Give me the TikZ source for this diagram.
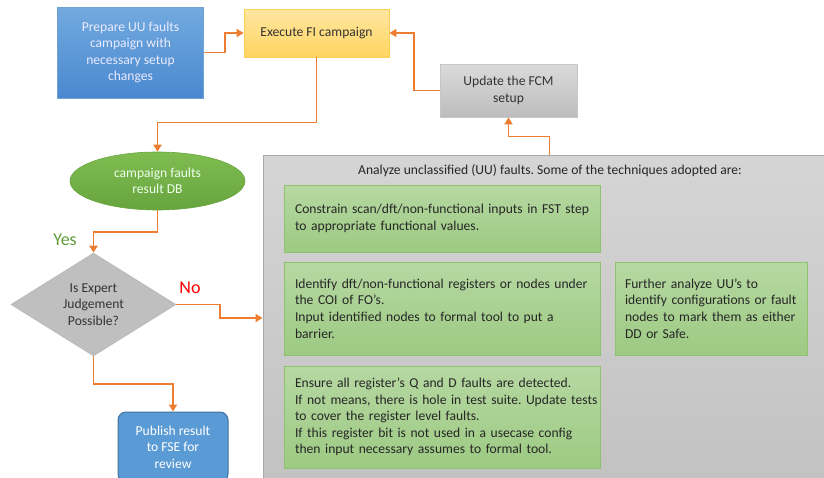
\documentclass[tikz,border=0pt]{standalone}
\usepackage{fontspec}
\setmainfont{Carlito}
\frenchspacing
\usetikzlibrary{shapes.geometric,arrows.meta,calc}
\definecolor{arrorange}{HTML}{ED7D31}
\definecolor{blueTop}{HTML}{72AADF}
\definecolor{blueBot}{HTML}{4A88CF}
\definecolor{blueLine}{HTML}{6FA3D8}
\definecolor{yelTop}{HTML}{FFE7A2}
\definecolor{yelBot}{HTML}{FFD460}
\definecolor{yelLine}{HTML}{FFCF55}
\definecolor{grayTop}{HTML}{DADADA}
\definecolor{grayBot}{HTML}{BDBDBD}
\definecolor{grayLine}{HTML}{C6C6C6}
\definecolor{bigTop}{HTML}{D5D5D5}
\definecolor{bigBot}{HTML}{C2C2C2}
\definecolor{bigLine}{HTML}{A8A8A8}
\definecolor{grnTop}{HTML}{B6D8A2}
\definecolor{grnBot}{HTML}{9DCA83}
\definecolor{grnLine}{HTML}{8EC26E}
\definecolor{ellTop}{HTML}{7FBD51}
\definecolor{ellBot}{HTML}{68A43E}
\definecolor{pubFill}{HTML}{5B9BD5}
\definecolor{pubLine}{HTML}{41719C}
\definecolor{yesGreen}{HTML}{5E9C3A}
\definecolor{darktext}{HTML}{333333}
\begin{document}
\begin{tikzpicture}[x=1pt,y=-1pt,
  txt/.style={font=\fontsize{13.6}{16.6}\selectfont},
  box/.style={txt, rectangle, inner sep=0pt, align=center},
  arr/.style={draw=arrorange, line width=1.8pt, -{Triangle[length=7pt,width=8pt]}},
  greenbox/.style={txt, rectangle, top color=grnTop, bottom color=grnBot, draw=grnLine, line width=0.8pt,
     text=black!85, align=left, inner xsep=11pt, inner ysep=0pt},
  lbl/.style={font=\fontsize{18}{20}\selectfont}
]
\useasboundingbox (0,0) rectangle (824,477);
\clip (0,0) rectangle (824,477);

% big gray container
\node[rectangle, top color=bigTop, bottom color=bigBot, draw=bigLine, line width=1pt,
      minimum width=577pt, minimum height=326pt, inner sep=0pt] (big) at (551.5,318) {};
\node[txt, text=black!85] (title) at (550,171) {Analyze unclassified (UU) faults. Some of the techniques adopted are:};

% green technique boxes
\node[greenbox, text width=294pt, minimum height=67pt] (g1) at (442,218.5)
  {\mbox{Constrain scan/dft/non-functional inputs in FST step}\\to appropriate functional values.};
\node[greenbox, text width=294pt, minimum height=93pt] (g2) at (442,308.5)
  {\mbox{Identify dft/non-functional registers or nodes under}\\the COI of FO’s.\\Input identified nodes to formal tool to put a\\barrier.};
\node[greenbox, text width=172pt, minimum height=93pt, inner xsep=10pt] (g3) at (711,308.5)
  {Further analyze UU’s to\\\mbox{identify configurations or fault}\\nodes to mark them as either\\DD or Safe.};
\node[greenbox, text width=294pt, minimum height=102pt] (g4) at (442,417)
  {\mbox{Ensure all register’s Q and D faults are detected.}\\\mbox{If not means, there is hole in test suite. Update tests}\\to cover the register level faults.\\\mbox{If this register bit is not used in a usecase config}\\then input necessary assumes to formal tool.};

% top boxes
\node[box, top color=blueTop, bottom color=blueBot, draw=blueLine, line width=0.8pt, text=white!92!blue,
      minimum width=146pt, minimum height=91pt] (prep) at (130.5,52.5)
  {Prepare UU faults\\campaign with\\necessary setup\\changes};
\node[box, top color=yelTop, bottom color=yelBot, draw=yelLine, line width=0.8pt, text=darktext,
      minimum width=145pt, minimum height=48pt] (exec) at (316.5,33) {Execute FI campaign};
\node[box, top color=grayTop, bottom color=grayBot, draw=grayLine, line width=0.8pt, text=darktext,
      minimum width=137pt, minimum height=53pt] (upd) at (508.5,90.5) {Update the FCM\\setup};

% left column
\node[txt, ellipse, top color=ellTop, bottom color=ellBot, draw=ellBot, line width=0.6pt, text=white!93!green,
      minimum width=175pt, minimum height=58pt, inner sep=0pt, align=center] (db) at (157.5,181)
  {campaign faults\\result DB};
\node[txt, diamond, fill=gray!50, draw=gray!55, line width=0.6pt, text=darktext,
      minimum width=165pt, minimum height=95pt, inner sep=0pt, align=center] (dia) at (93.5,304.5)
  {Is Expert\\Judgement\\Possible?};
\node[box, fill=pubFill, draw=pubLine, line width=1pt, rounded corners=8pt, text=white,
      minimum width=110pt, minimum height=70pt] (pub) at (173,447)
  {Publish result\\to FSE for\\review};

% labels
\node[lbl, text=yesGreen] (yes) at (65,240) {Yes};
\node[lbl, text=red] (no) at (190,288) {No};

% connectors
\draw[arr] (prep.east) -- ++(21,0) |- (exec.west);
\draw[arr] (exec.south) -- ++(0,65) -| (db.north);
\draw[arr] (upd.west) -- ++(-26,0) |- (exec.east);
\draw[arr] ([xshift=287pt]big.north west) -- ++(0,-18) -| (upd.south);
\draw[arr] (db.south) -- ++(0,22) -| (dia.north);
\draw[arr] (dia.east) -- ++(44,0) |- (big.west);
\draw[arr] (dia.south) -- ++(0,28) -| (pub.north);
\end{tikzpicture}
\end{document}
